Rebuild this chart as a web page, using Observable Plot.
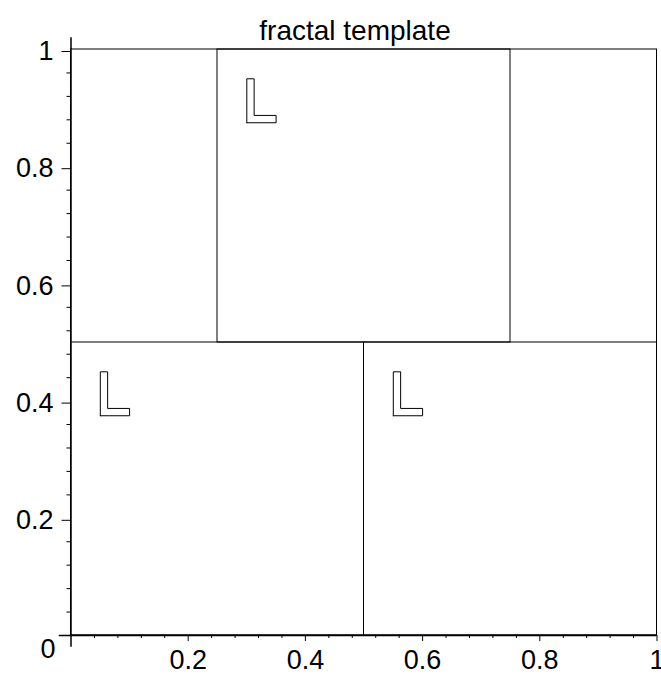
<!DOCTYPE html>
<html>
<head>
<meta charset="utf-8">
<script src="https://cdn.jsdelivr.net/npm/d3@7"></script>
<script src="https://cdn.jsdelivr.net/npm/@observablehq/plot@0.6"></script>
<style>
  body { margin: 0; background: #fff; }
  svg { overflow: visible; }
</style>
</head>
<body>
<div id="chart"></div>
<script>
// ---- data ----
const title = "fractal template";

// rectangles: unit square + three half-size copies
const rectX1 = [0, 0.25, 0, 0.5];
const rectX2 = [1, 0.75, 0.5, 1];
const rectY1 = [0, 0.5, 0, 0];
const rectY2 = [1, 1, 0.5, 0.5];

// L-shaped markers (closed outlines), one per copy
const lTopX = [0.30, 0.35, 0.35, 0.3125, 0.3125, 0.30, 0.30];
const lTopY = [0.875, 0.875, 0.8875, 0.8875, 0.95, 0.95, 0.875];
const lLeftX = [0.05, 0.10, 0.10, 0.0625, 0.0625, 0.05, 0.05];
const lLeftY = [0.375, 0.375, 0.3875, 0.3875, 0.45, 0.45, 0.375];
const lRightX = [0.55, 0.60, 0.60, 0.5625, 0.5625, 0.55, 0.55];
const lRightY = [0.375, 0.375, 0.3875, 0.3875, 0.45, 0.45, 0.375];

// ticks
const xMajorTicks = [0.2, 0.4, 0.6, 0.8, 1];
const xTickLabels = ["0.2", "0.4", "0.6", "0.8", "1"];
const yMajorTicks = [0.2, 0.4, 0.6, 0.8, 1];
const yTickLabels = ["0.2", "0.4", "0.6", "0.8", "1"];
const xMinorTicks = [0.04, 0.08, 0.12, 0.16, 0.24, 0.28, 0.32, 0.36, 0.44, 0.48, 0.52, 0.56, 0.64, 0.68, 0.72, 0.76, 0.84, 0.88, 0.92, 0.96];
const yMinorTicks = [0.04, 0.08, 0.12, 0.16, 0.24, 0.28, 0.32, 0.36, 0.44, 0.48, 0.52, 0.56, 0.64, 0.68, 0.72, 0.76, 0.84, 0.88, 0.92, 0.96];
const originLabel = "0";

// axis line extents
const xAxisExtent = [-0.02, 1];
const yAxisExtent = [-0.02, 1.02];

// ---- build tables ----
const rects = rectX1.map((x1, i) => ({x1, x2: rectX2[i], y1: rectY1[i], y2: rectY2[i]}));
const lShapes = [];
[[lTopX, lTopY, "top"], [lLeftX, lLeftY, "left"], [lRightX, lRightY, "right"]].forEach(([xs, ys, id]) => {
  xs.forEach((x, i) => lShapes.push({id, x, y: ys[i]}));
});

const FONT = 27;

const chart = Plot.plot({
  width: 661,
  height: 675,
  marginLeft: 70.5,
  marginRight: 4.5,
  marginTop: 49,
  marginBottom: 40,
  style: {fontFamily: "'Liberation Sans', Arial, sans-serif", background: "#fff", color: "#000"},
  x: {domain: [0, 1], label: null},
  y: {domain: [0, 1], label: null},
  marks: [
    Plot.rect(rects, {x1: "x1", x2: "x2", y1: "y1", y2: "y2", fill: "none", stroke: "#000", strokeWidth: 1}),
    Plot.line(lShapes, {x: "x", y: "y", z: "id", stroke: "#000", strokeWidth: 1, strokeLinejoin: "miter"}),
    Plot.ruleX([0], {y1: yAxisExtent[0], y2: yAxisExtent[1], stroke: "#000", strokeWidth: 1.5}),
    Plot.ruleY([0], {x1: xAxisExtent[0], x2: xAxisExtent[1], stroke: "#000", strokeWidth: 1.5}),
    Plot.axisX({ticks: xMajorTicks, tickFormat: (d, i) => xTickLabels[i], tickSize: 6, tickPadding: 8, fontSize: FONT, label: null}),
    Plot.axisX({ticks: xMinorTicks, tickSize: 3, text: null, label: null}),
    Plot.axisY({ticks: yMajorTicks, tickFormat: (d, i) => yTickLabels[i], tickSize: 9, tickPadding: 8.5, dy: 2, fontSize: FONT, label: null}),
    Plot.axisY({ticks: yMinorTicks, tickSize: 4, text: null, label: null}),
    Plot.text([originLabel], {x: () => 0, y: () => 0, text: d => d, dx: -23, dy: 14, fontSize: FONT}),
    Plot.text([title], {frameAnchor: "top", text: d => d, dx: -9, dy: -29, fontSize: 28})
  ]
});
document.getElementById("chart").appendChild(chart);
</script>
</body>
</html>
